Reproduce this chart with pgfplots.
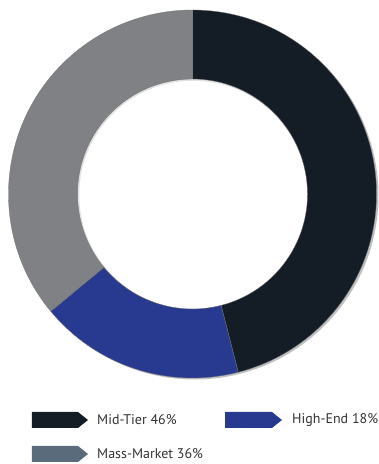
\documentclass[border=0pt]{standalone}
\usepackage{pgfplots}
\pgfplotsset{compat=1.18}
\usepackage{pgfplotstable}
\usepackage{fontspec}
\setmainfont{PT Sans}
\definecolor{midtier}{HTML}{141C26}
\definecolor{highend}{HTML}{283A8F}
\definecolor{mass}{HTML}{808184}
\definecolor{masslegend}{HTML}{5A6B7B}
\definecolor{txt}{HTML}{333333}

\pgfplotstableread[col sep=comma]{
label,value
Mid-Tier,46
High-End,18
Mass-Market,36
}\shares

\def\cx{192.5}
\def\cy{270}
\def\Ro{184}
\def\Ri{115}
\gdef\startang{90}
\newcommand\donutslice[2]{%
  \pgfplotstablegetelem{#1}{value}\of\shares%
  \pgfmathsetmacro\endang{\startang-\pgfplotsretval*3.6}%
  \pgfmathsetmacro\xa{\cx+\Ro*cos(\startang)}%
  \pgfmathsetmacro\ya{\cy+\Ro*sin(\startang)}%
  \pgfmathsetmacro\xb{\cx+\Ri*cos(\endang)}%
  \pgfmathsetmacro\yb{\cy+\Ri*sin(\endang)}%
  \edef\tmp{\noexpand\fill[#2, draw=black!55, line width=0.3pt]%
    (axis cs:\xa,\ya) arc[start angle=\startang, end angle=\endang, radius=\Ro pt]%
    -- (axis cs:\xb,\yb) arc[start angle=\endang, end angle=\startang, radius=\Ri pt] -- cycle;}%
  \tmp%
  \xdef\startang{\endang}%
}

\begin{document}
\begin{tikzpicture}
\begin{axis}[scale only axis, width=379pt, height=464pt,
  xmin=0, xmax=379, ymin=0, ymax=464, hide axis, clip=false]
% soft shadow
\fill[black, opacity=0.25] (axis cs:194.5,268.5) circle[radius=184pt];
\fill[white] (axis cs:\cx,\cy) circle[radius=\Ri pt];
\fill[black, opacity=0.12] (axis cs:\cx,\cy) circle[radius=\Ri pt];
\fill[white] (axis cs:193.3,269.2) circle[radius=114pt];
\donutslice{0}{midtier}
\donutslice{1}{highend}
\donutslice{2}{mass}
% legend
\fill[midtier] (axis cs:32,36) -- (axis cs:78,36) -- (axis cs:88,44) -- (axis cs:78,52) -- (axis cs:32,52) -- cycle;
\node[anchor=west, inner sep=0pt, text=txt, font=\fontsize{14}{16}\selectfont] at (axis cs:97,44) {Mid-Tier 46\%};
\fill[highend] (axis cs:225,36) -- (axis cs:272,36) -- (axis cs:282,44) -- (axis cs:272,52) -- (axis cs:225,52) -- cycle;
\node[anchor=west, inner sep=0pt, text=txt, font=\fontsize{14}{16}\selectfont] at (axis cs:292,44) {High-End 18\%};
\fill[masslegend] (axis cs:32,2) -- (axis cs:78,2) -- (axis cs:88,10) -- (axis cs:78,18) -- (axis cs:32,18) -- cycle;
\node[anchor=west, inner sep=0pt, text=txt, font=\fontsize{14}{16}\selectfont] at (axis cs:97,10) {Mass-Market 36\%};
\end{axis}
\pgfresetboundingbox
\path (0,0) rectangle (379pt,464pt);
\end{tikzpicture}
\end{document}
